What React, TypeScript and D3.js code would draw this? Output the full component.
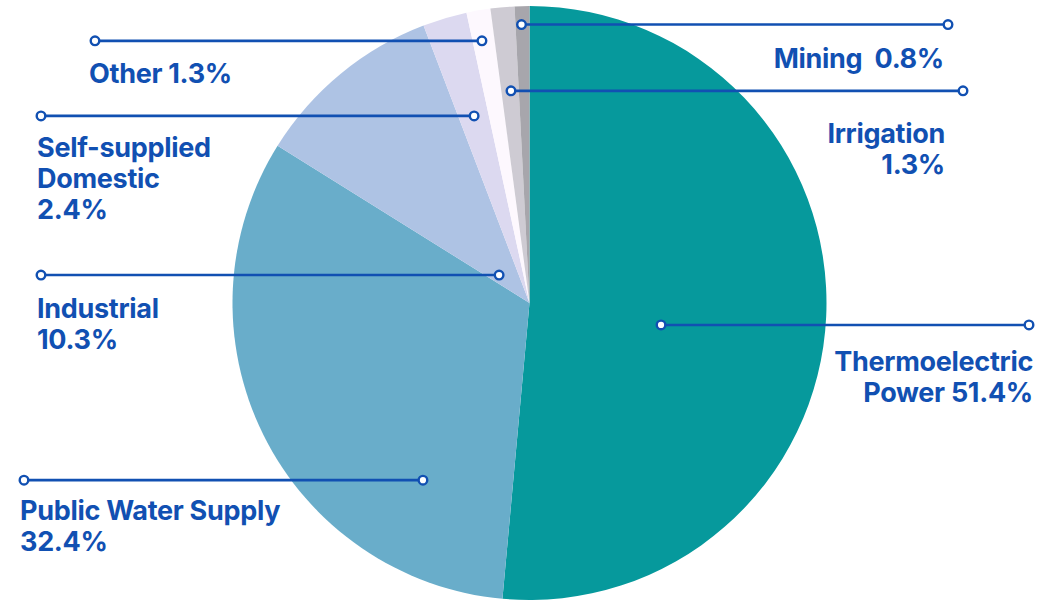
import React, { useRef, useEffect } from "react";
import * as d3 from "d3";

const categories = [
  "Thermoelectric Power",
  "Public Water Supply",
  "Industrial",
  "Self-supplied Domestic",
  "Other",
  "Irrigation",
  "Mining",
];
const shares = [51.4, 32.4, 10.3, 2.4, 1.3, 1.3, 0.8];
const sliceColors = [
  "#06999c",
  "#69adca",
  "#aec3e4",
  "#dcd9f0",
  "#fdf8fe",
  "#cecbd3",
  "#a7a6ac",
];
const labelText = [
  ["Thermoelectric", "Power 51.4%"],
  ["Public Water Supply", "32.4%"],
  ["Industrial", "10.3%"],
  ["Self-supplied", "Domestic", "2.4%"],
  ["Other 1.3%"],
  ["Irrigation", "1.3%"],
  ["Mining\u00a0\u00a00.8%"],
];

// callout layout: where the inner dot sits in its slice (t along the angle, r as a share of radius),
// where the outer dot ends, and where the text goes
const callouts = [
  { t: 0.537, r: 0.449, outerX: 1029, side: "right", textX: 1033, dy: 46 },
  { t: 0.221, r: 0.696, outerX: 24, side: "left", textX: 20, dy: 40 },
  { t: 0.286, r: 0.139, outerX: 41, side: "left", textX: 37, dy: 43 },
  { t: 0.51, r: 0.657, outerX: 41, side: "left", textX: 37, dy: 41 },
  { t: 0.42, r: 0.897, outerX: 95, side: "left", textX: 89, dy: 42 },
  { t: 0.55, r: 0.717, outerX: 963, side: "right", textX: 945, dy: 52 },
  { t: 0.43, r: 0.938, outerX: 948, side: "right", textX: 944, dy: 43 },
];

const WIDTH = 1041;
const HEIGHT = 604;
const CX = 529.5;
const CY = 303;
const RADIUS = 297;
const INK = "#1150b2";

const App: React.FC = () => {
  const svgRef = useRef<SVGSVGElement | null>(null);

  useEffect(() => {
    document.body.style.margin = "0";
    const svg = d3.select(svgRef.current);
    svg.selectAll("*").remove();

    const data = categories.map((c, i) => ({ name: c, value: shares[i], i }));
    const pie = d3
      .pie<{ name: string; value: number; i: number }>()
      .value((d) => d.value)
      .sort(null);
    const arcs = pie(data);
    const arc = d3
      .arc<d3.PieArcDatum<{ name: string; value: number; i: number }>>()
      .innerRadius(0)
      .outerRadius(RADIUS);

    const chart = svg.append("g").attr("transform", `translate(${CX},${CY})`);

    chart
      .selectAll("path")
      .data(arcs)
      .join("path")
      .attr("d", arc)
      .attr("fill", (d) => sliceColors[d.data.i]);

    const notes = svg.append("g");

    arcs.forEach((a, i) => {
      const c = callouts[i];
      const ang = a.startAngle + (a.endAngle - a.startAngle) * c.t;
      const rr = RADIUS * c.r;
      const x0 = CX + Math.sin(ang) * rr;
      const y0 = CY - Math.cos(ang) * rr;

      notes
        .append("line")
        .attr("x1", x0)
        .attr("x2", c.outerX)
        .attr("y1", y0)
        .attr("y2", y0)
        .attr("stroke", INK)
        .attr("stroke-width", 2.6);

      [x0, c.outerX].forEach((x) => {
        notes
          .append("circle")
          .attr("cx", x)
          .attr("cy", y0)
          .attr("r", 4.3)
          .attr("fill", "white")
          .attr("stroke", INK)
          .attr("stroke-width", 2.4);
      });

      const text = notes
        .append("text")
        .attr("x", c.textX)
        .attr("y", y0 + c.dy)
        .attr("text-anchor", c.side === "right" ? "end" : "start")
        .style("font-family", "Inter, 'Open Sans', sans-serif")
        .style("font-size", "27px")
        .style("font-weight", "700")
        .style("letter-spacing", "-0.3px")
        .attr("fill", INK);

      labelText[i].forEach((line, k) => {
        text
          .append("tspan")
          .attr("x", c.textX)
          .attr("dy", k === 0 ? 0 : 31)
          .text(line);
      });
    });
  }, []);

  return (
    <div style={{ width: WIDTH, height: HEIGHT }}>
      <svg ref={svgRef} width={WIDTH} height={HEIGHT} />
    </div>
  );
};

export default App;
